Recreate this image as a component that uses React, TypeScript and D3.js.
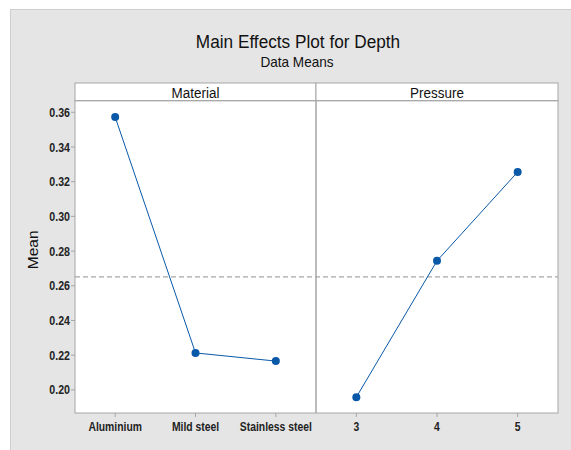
import React from "react";
import * as d3 from "d3";

const materialLevels = ["Aluminium", "Mild steel", "Stainless steel"];
const materialMeans = [0.3573, 0.2213, 0.2166];
const pressureLevels = ["3", "4", "5"];
const pressureMeans = [0.1958, 0.2744, 0.3256];
const yTicks = [0.2, 0.22, 0.24, 0.26, 0.28, 0.3, 0.32, 0.34, 0.36];
const overallMean = 0.2651;
const panelTitles = ["Material", "Pressure"];

const W = 571;
const H = 450;
const FONT = "'Liberation Sans', Arial, sans-serif";
const BLUE = "#0a58a8";
const GRID = "#a6a6a6";

function CText(props: {
  x: number;
  y: number;
  sx: number;
  size: number;
  anchor?: string;
  weight?: string;
  dy?: string;
  fill?: string;
  children: React.ReactNode;
}) {
  return (
    <g transform={`translate(${props.x},${props.y}) scale(${props.sx},1)`}>
      <text
        x={0}
        y={0}
        dy={props.dy}
        textAnchor={props.anchor || "middle"}
        fontSize={props.size}
        fontWeight={props.weight || "normal"}
        fill={props.fill || "#111"}
      >
        {props.children}
      </text>
    </g>
  );
}

export default function App() {
  const left = 75;
  const mid = 316;
  const right = 558;
  const stripTop = 83;
  const plotTop = 100.7;
  const plotBottom = 413;

  const y = d3.scaleLinear().domain([0.18668, 0.36668]).range([plotBottom, plotTop]);
  const panels = [
    { title: panelTitles[0], levels: materialLevels, means: materialMeans, x0: left, x1: mid },
    { title: panelTitles[1], levels: pressureLevels, means: pressureMeans, x0: mid, x1: right },
  ];

  return (
    <svg width={W} height={H} style={{ position: "absolute", left: 0, top: 0 }} fontFamily={FONT}>
      <rect x={0} y={0} width={W} height={H} fill="#ffffff" />
      <rect x={10.5} y={9.5} width={W} height={H} fill="#e5e5e5" stroke="#cdcdcd" strokeWidth={1} />
      <CText x={298} y={48} sx={0.93} size={18.5}>
        Main Effects Plot for Depth
      </CText>
      <CText x={297} y={67} sx={0.97} size={14}>
        Data Means
      </CText>
      <text
        transform={`translate(38,${(plotTop + plotBottom) / 2 - 7}) rotate(-90)`}
        textAnchor="middle"
        fontSize={15.5}
        fill="#111"
      >
        Mean
      </text>

      {/* plot area background */}
      <rect x={left} y={plotTop} width={right - left} height={plotBottom - plotTop} fill="#fff" />

      {/* y ticks */}
      {yTicks.map((t) => (
        <g key={t}>
          <line x1={left - 4} x2={left} y1={y(t)} y2={y(t)} stroke={GRID} />
          <CText x={left - 5} y={y(t)} dy="0.36em" sx={0.85} size={12.5} anchor="end" weight="bold" fill="#222">
            {t.toFixed(2)}
          </CText>
        </g>
      ))}

      {/* reference line */}
      <line
        x1={left}
        x2={right}
        y1={y(overallMean)}
        y2={y(overallMean)}
        stroke={GRID}
        strokeWidth={1.2}
        strokeDasharray="5,3"
      />

      {panels.map((p) => {
        const x = d3.scalePoint<string>().domain(p.levels).range([p.x0, p.x1]).padding(0.5);
        const line = d3
          .line<number>()
          .x((_, i) => x(p.levels[i]) as number)
          .y((v) => y(v));
        return (
          <g key={p.title}>
            <rect
              x={p.x0}
              y={stripTop}
              width={p.x1 - p.x0}
              height={plotTop - stripTop}
              fill="#fff"
              stroke={GRID}
            />
            <CText x={(p.x0 + p.x1) / 2} y={97.5} sx={0.96} size={14}>
              {p.title}
            </CText>
            <path d={line(p.means) || ""} fill="none" stroke={BLUE} strokeWidth={1} />
            {p.means.map((v, i) => (
              <circle key={i} cx={x(p.levels[i])} cy={y(v)} r={4} fill={BLUE} />
            ))}
            {p.levels.map((l) => (
              <g key={l}>
                <line x1={x(l)} x2={x(l)} y1={plotBottom} y2={plotBottom + 4} stroke={GRID} />
                <CText x={x(l) as number} y={431} sx={0.83} size={12.5} weight="bold" fill="#222">
                  {l}
                </CText>
              </g>
            ))}
          </g>
        );
      })}

      {/* panel borders */}
      <rect x={left} y={plotTop} width={right - left} height={plotBottom - plotTop} fill="none" stroke={GRID} />
      <line x1={mid} x2={mid} y1={plotTop} y2={plotBottom} stroke={GRID} strokeWidth={1.5} />
    </svg>
  );
}
